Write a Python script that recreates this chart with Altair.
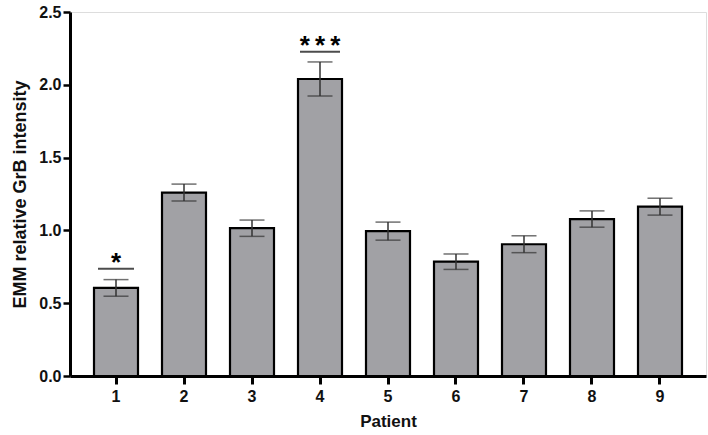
import altair as alt
import pandas as pd

patients = ["1", "2", "3", "4", "5", "6", "7", "8", "9"]
means = [0.605, 1.26, 1.015, 2.04, 0.995, 0.785, 0.905, 1.078, 1.163]
sems = [0.057, 0.058, 0.056, 0.117, 0.062, 0.053, 0.058, 0.056, 0.058]

sig_patients = ["1", "4"]
sig_labels = ["*", "*\u2009*\u2009*"]
sig_line_y = [0.737, 2.227]
sig_text_y = [0.72, 2.21]
sig_widths = [36, 40]

df = pd.DataFrame({
    "Patient": patients,
    "mean": means,
    "lo": [m - s for m, s in zip(means, sems)],
    "hi": [m + s for m, s in zip(means, sems)],
})
sig = pd.DataFrame({
    "Patient": sig_patients,
    "label": sig_labels,
    "ly": sig_line_y,
    "ty": sig_text_y,
    "w": sig_widths,
})

FONT = "Liberation Sans"

x = alt.X(
    "Patient:N",
    sort=patients,
    scale=alt.Scale(paddingInner=0.353, paddingOuter=0.353),
    axis=alt.Axis(
        title="Patient", labelAngle=0, labelFont=FONT, labelFontWeight="bold",
        labelFontSize=16, labelColor="#111", labelPadding=4,
        titleFont=FONT, titleFontWeight="bold", titleFontSize=17, titleColor="#111",
        titlePadding=9, tickSize=8, tickWidth=3, tickColor="#000",
        domainWidth=3, domainColor="#000",
    ),
)
yscale = alt.Scale(domain=[0, 2.5], nice=False)
yaxis = alt.Axis(
    title="EMM relative GrB intensity", values=[0, 0.5, 1.0, 1.5, 2.0, 2.5], format=".1f",
    labelFont=FONT, labelFontWeight="bold", labelFontSize=16, labelColor="#111",
    labelPadding=2, titleFont=FONT, titleFontWeight="bold", titleFontSize=18,
    titleColor="#111", titlePadding=9, tickSize=7, tickWidth=2.5, tickColor="#000",
    domainWidth=3, domainColor="#000", grid=False,
)

base = alt.Chart(df)
bars = base.mark_bar(color="#a1a1a5", stroke="#000", strokeWidth=2.2).encode(
    x=x, y=alt.Y("mean:Q", scale=yscale, axis=yaxis)
)
err = base.mark_rule(color="#333", strokeWidth=1.5).encode(
    x=alt.X("Patient:N", sort=patients), y="lo:Q", y2="hi:Q"
)
cap_hi = base.mark_tick(color="#333", thickness=1.5, size=25).encode(
    x=alt.X("Patient:N", sort=patients), y="hi:Q"
)
cap_lo = base.mark_tick(color="#333", thickness=1.5, size=25).encode(
    x=alt.X("Patient:N", sort=patients), y="lo:Q"
)
sig_line = alt.Chart(sig).mark_tick(color="#000", thickness=2).encode(
    x=alt.X("Patient:N", sort=patients), y="ly:Q",
    size=alt.Size("w:Q", scale=None, legend=None),
)
sig_text = alt.Chart(sig).mark_text(
    font=FONT, fontWeight="bold", fontSize=26, baseline="alphabetic", color="#000"
).encode(x=alt.X("Patient:N", sort=patients), y="ty:Q", text="label:N")

chart = alt.layer(bars, err, cap_hi, cap_lo, sig_line, sig_text).properties(
    width=636, height=364,
    autosize=alt.AutoSizeParams(type="none"),
    padding={"left": 70, "top": 12, "right": 2, "bottom": 59},
).configure_view(stroke=None).configure(background="white")

chart.save("out.html", embed_options={"renderer": "svg", "actions": False})
